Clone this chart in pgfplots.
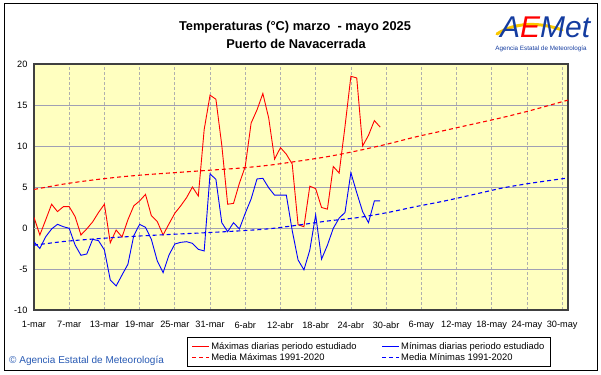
\documentclass[border=0pt]{standalone}
\usepackage{pgfplots}
\pgfplotsset{compat=1.18}
\usepackage{pgfplotstable}
\usepackage{fontspec}
\setmainfont{Liberation Sans}
\definecolor{bgyellow}{RGB}{255,255,192}
\definecolor{aemetblue}{RGB}{20,60,160}
\definecolor{copyblue}{RGB}{40,90,180}
\definecolor{gridh}{RGB}{160,160,180}
\definecolor{gridv}{RGB}{175,175,175}
\definecolor{logoyellow}{RGB}{250,200,0}

\pgfplotstableread{
d v
0 1.3
1 -0.85
2 1.0
3 2.9
4 2.0
5 2.6
6 2.6
7 1.4
8 -0.85
9 -0.1
10 0.75
11 1.9
12 2.9
13 -1.8
14 -0.25
15 -1.1
16 1.0
17 2.7
18 3.3
19 4.1
20 1.5
21 0.8
22 -0.85
23 0.5
24 1.8
25 2.7
26 3.7
27 5.0
28 3.9
29 12.0
30 16.2
31 15.7
32 10.1
33 2.9
34 3.0
35 5.45
36 7.5
37 12.8
38 14.4
39 16.4
40 13.4
41 8.4
42 9.8
43 9.0
44 7.8
45 0.4
46 0.16
47 5.1
48 4.8
49 2.5
50 2.3
51 7.5
52 6.7
53 12.4
54 18.5
55 18.3
56 10.0
57 11.3
58 13.1
59 12.3
}\maxtable

\pgfplotstableread{
d v
0 -1.7
1 -2.5
2 -1.06
3 -0.12
4 0.45
5 0.16
6 -0.04
7 -2.07
8 -3.33
9 -3.17
10 -1.38
11 -1.55
12 -2.68
13 -6.34
14 -7.07
15 -5.73
16 -4.43
17 -0.94
18 0.45
19 0.08
20 -1.38
21 -4.0
22 -5.45
23 -3.3
24 -1.95
25 -1.75
26 -1.67
27 -1.87
28 -2.6
29 -2.8
30 6.6
31 5.93
32 0.65
33 -0.45
34 0.65
35 -0.12
36 1.8
37 3.54
38 5.98
39 6.06
40 4.9
41 4.0
42 4.0
43 4.0
44 -0.3
45 -3.9
46 -5.1
47 -2.7
48 1.6
49 -3.8
50 -2.1
51 -0.04
52 1.2
53 1.9
54 6.75
55 4.3
56 2.0
57 0.65
58 3.3
59 3.3
}\mintable

\pgfplotstableread{
d v
0 4.7
5 5.35
10 5.85
15 6.25
20 6.55
25 6.8
30 7.05
35 7.3
40 7.65
45 8.15
50 8.7
55 9.4
60 10.2
65 11.1
70 11.9
75 12.7
80 13.5
85 14.4
91 15.6
}\meanmax

\pgfplotstableread{
d v
0 -2.1
5 -1.65
10 -1.35
15 -1.1
20 -0.9
25 -0.72
30 -0.55
35 -0.35
40 -0.1
45 0.35
50 0.85
55 1.25
60 1.85
65 2.6
70 3.3
75 4.1
80 4.9
85 5.5
91 6.1
}\meanmin

\begin{document}
\begin{tikzpicture}
\useasboundingbox (0pt,0pt) rectangle (601pt,374pt);
\fill[white] (0pt,0pt) rectangle (601pt,374pt);
\draw[black, line width=1pt] (4.5pt,3.5pt) rectangle (597pt,370.5pt);

% title
\node[font=\fontsize{12.8}{15}\selectfont\bfseries] at (295pt,347pt) {Temperaturas (°C) marzo \ - mayo 2025};
\node[font=\fontsize{12.8}{15}\selectfont\bfseries] at (296pt,330.5pt) {Puerto de Navacerrada};

% logo
\draw[logoyellow, line width=3pt, line cap=round] (497pt,340pt) .. controls (515pt,352pt) and (540pt,352pt) .. (562pt,344pt);
\node[font=\fontsize{30}{30}\selectfont\itshape, inner sep=0pt, anchor=base west] at (500pt,336pt) {\textcolor{aemetblue}{A}\textcolor{red}{E}\textcolor{aemetblue}{Met}};
\node[font=\fontsize{6.3}{7}\selectfont, text=aemetblue, inner sep=0pt] at (541pt,325pt) {Agencia Estatal de Meteorología};

% copyright
\node[font=\fontsize{10}{11}\selectfont, text=copyblue, anchor=west, inner sep=0pt] at (9pt,13pt) {\textcopyright\ Agencia Estatal de Meteorología};

\begin{axis}[
  at={(34pt,64pt)}, anchor=south west,
  scale only axis, width=534pt, height=246pt,
  xmin=0, xmax=91, ymin=-10, ymax=20,
  axis background/.style={fill=bgyellow},
  axis line style={draw=black!75, line width=1.2pt},
  xtick={0,6,...,90},
  xticklabels={1-mar,7-mar,13-mar,19-mar,25-mar,31-mar,6-abr,12-abr,18-abr,24-abr,30-abr,6-may,12-may,18-may,24-may,30-may},
  ytick={-10,-5,0,5,10,15,20},
  yticklabels={-10,-5,0,5,10,15,20},
  major tick length=0pt,
  tick label style={font=\fontsize{9.2}{10}\selectfont},
  xticklabel style={yshift=-8pt},
  yticklabel style={xshift=-3pt},
  xmajorgrids, ymajorgrids,
  x grid style={gridv, dash pattern=on 3pt off 2pt, line width=0.7pt},
  y grid style={gridh, line width=0.8pt},
  extra y ticks={0}, extra y tick labels={},
  extra y tick style={grid=major, major grid style={black, line width=1pt}},
  legend columns=2,
  legend cell align=left,
  legend style={at={(0.2865,-0.1098)}, anchor=north west, draw=black, line width=0.8pt, fill=white,
    font=\fontsize{9.4}{10}\selectfont, inner xsep=4.5pt, inner ysep=3.5pt,
    nodes={inner sep=1.3pt},
    /tikz/every even column/.append style={column sep=24pt}},
  legend image code/.code={\path (0pt,0pt) -- (17pt,0pt); \draw[#1, line width=1pt] (0pt,0pt) -- (12pt,0pt);},
]
\addplot[red, line width=0.9pt] table[x=d, y=v] {\maxtable};
\addlegendentry{Máximas diarias periodo estudiado}
\addplot[blue, line width=0.9pt] table[x=d, y=v] {\mintable};
\addlegendentry{Mínimas diarias periodo estudiado\hspace{22pt}}
\addplot[red, line width=1.1pt, dash pattern=on 4pt off 3pt, smooth] table[x=d, y=v] {\meanmax};
\addlegendentry{Media Máximas 1991-2020}
\addplot[blue, line width=1.1pt, dash pattern=on 4pt off 3pt, smooth] table[x=d, y=v] {\meanmin};
\addlegendentry{Media Mínimas 1991-2020}
\end{axis}
\end{tikzpicture}
\end{document}
